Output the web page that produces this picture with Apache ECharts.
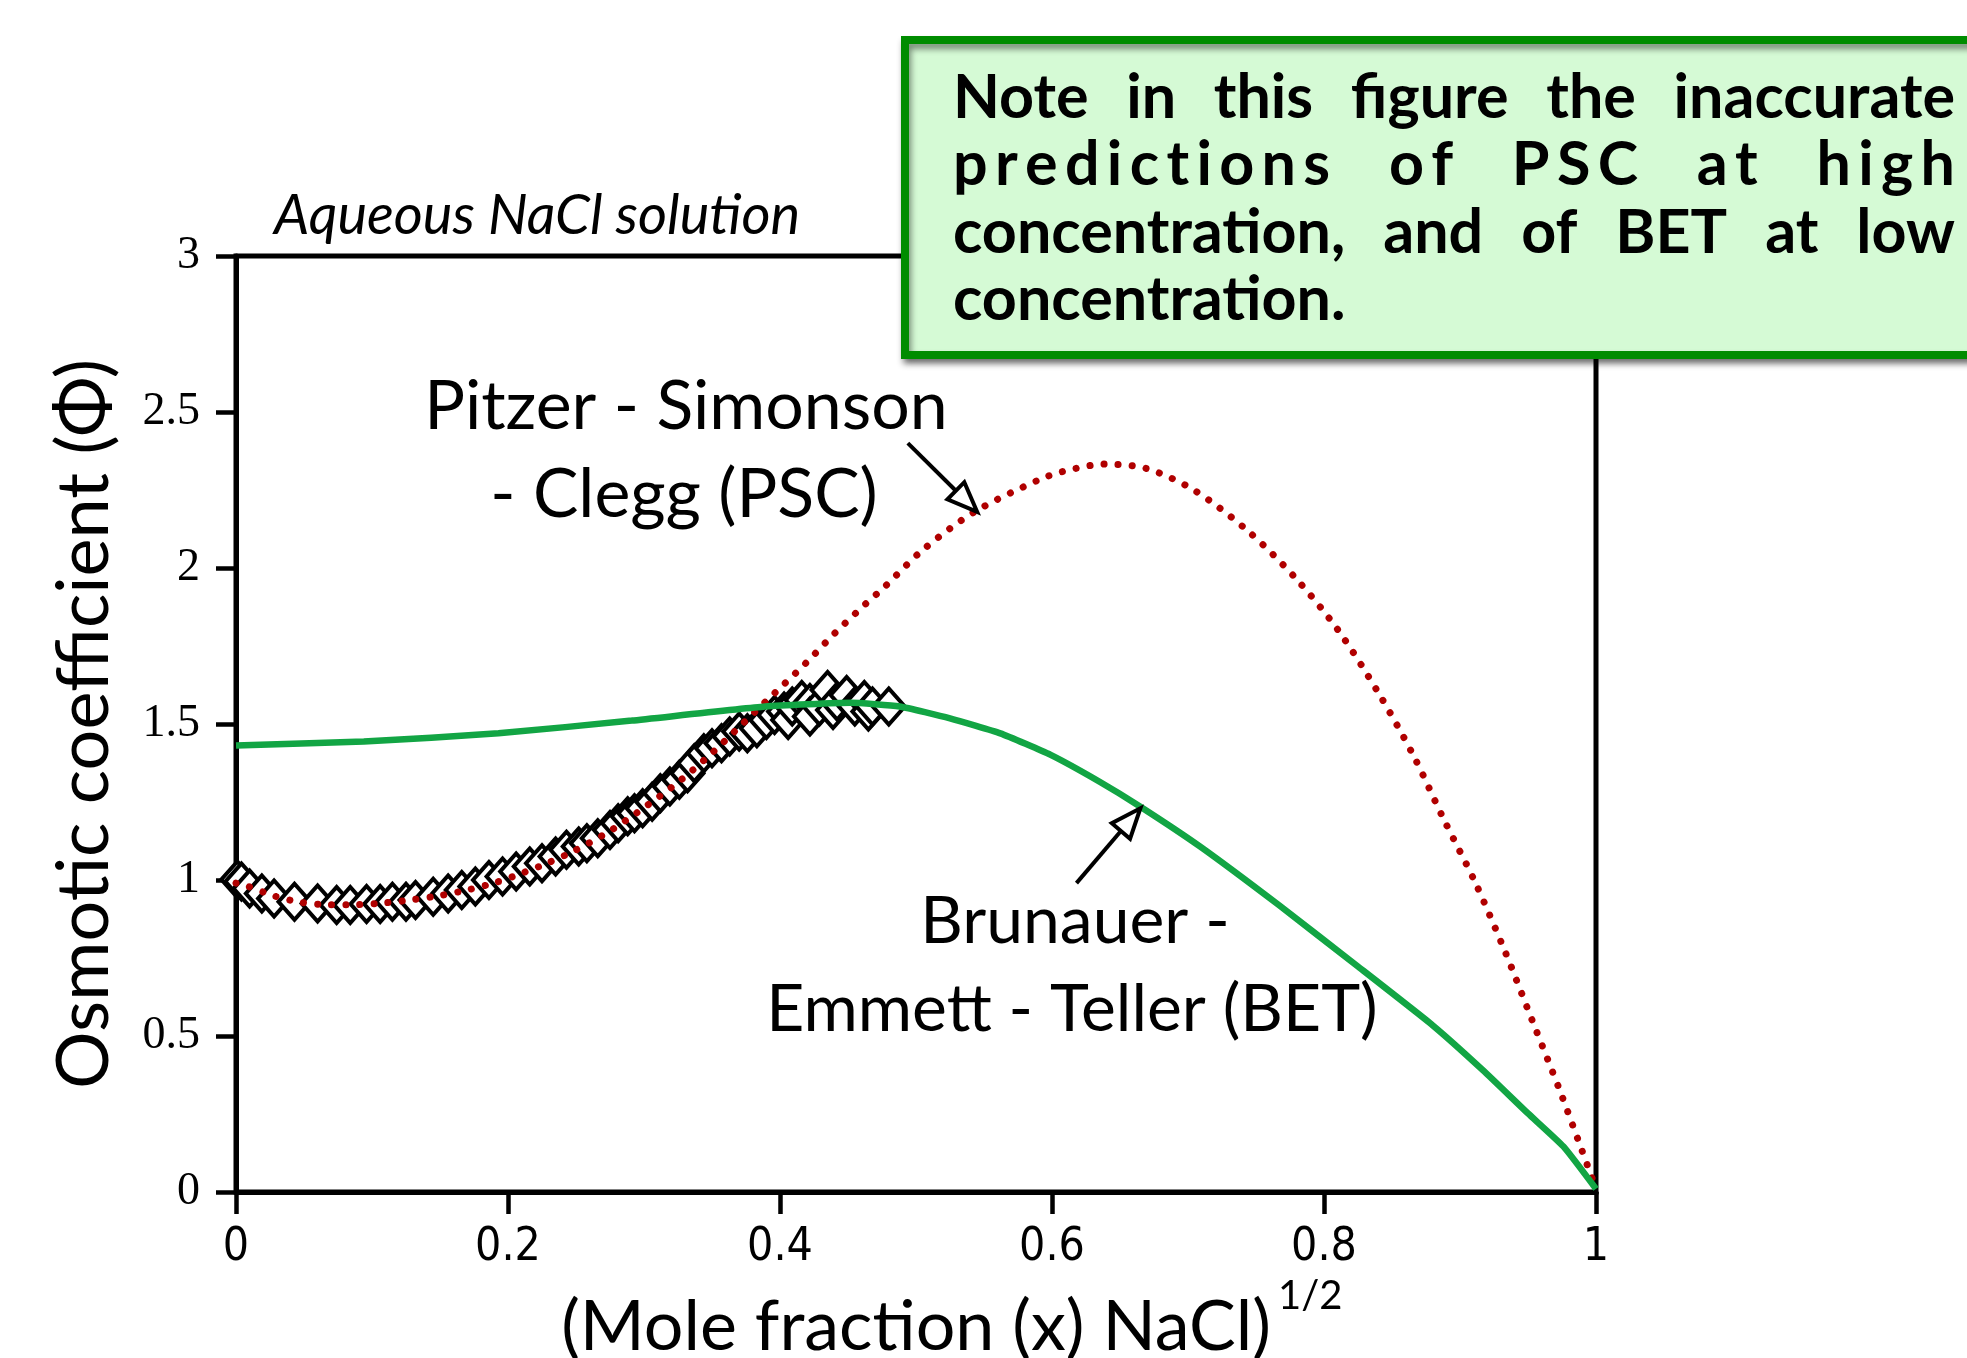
<!DOCTYPE html>
<html>
<head>
<meta charset="utf-8">
<script src="https://cdn.jsdelivr.net/npm/echarts@6/dist/echarts.min.js"></script>
<style>
html,body{margin:0;padding:0;background:#fff}
#main{width:1967px;height:1358px}
</style>
</head>
<body>
<div id="main"></div>
<script>
// experimental points (open diamonds)
var expX = [0.001, 0.004, 0.010, 0.019, 0.028, 0.043, 0.060, 0.074, 0.084, 0.096, 0.106, 0.115, 0.125, 0.132, 0.145, 0.156,
            0.166, 0.176, 0.186, 0.196, 0.206, 0.216, 0.225, 0.235, 0.243, 0.252, 0.258, 0.266, 0.275, 0.281, 0.288, 0.293,
            0.299, 0.306, 0.312, 0.319, 0.326, 0.332, 0.337, 0.344, 0.350, 0.357, 0.363, 0.370, 0.376, 0.383, 0.390, 0.396,
            0.403, 0.406, 0.409, 0.416, 0.422, 0.422, 0.429, 0.435, 0.439, 0.442, 0.449, 0.455, 0.462, 0.465, 0.468, 0.480];
var expY = [1.002, 0.995, 0.973, 0.957, 0.941, 0.930, 0.925, 0.920, 0.920, 0.923, 0.923, 0.930, 0.930, 0.936, 0.946, 0.957,
            0.968, 0.979, 1.000, 1.011, 1.027, 1.043, 1.054, 1.075, 1.097, 1.107, 1.118, 1.134, 1.160, 1.182, 1.204, 1.214,
            1.230, 1.251, 1.278, 1.300, 1.321, 1.342, 1.374, 1.406, 1.422, 1.438, 1.460, 1.476, 1.470, 1.486, 1.513, 1.529,
            1.540, 1.513, 1.556, 1.577, 1.567, 1.524, 1.556, 1.609, 1.545, 1.572, 1.593, 1.556, 1.577, 1.540, 1.556, 1.556];

// Pitzer - Simonson - Clegg (dotted red)
var pscX = [0, 0.008, 0.028, 0.048, 0.068, 0.089, 0.110, 0.130, 0.151, 0.171, 0.191, 0.211, 0.230, 0.249, 0.276, 0.301,
            0.327, 0.350, 0.373, 0.396, 0.419, 0.440, 0.463, 0.477, 0.505, 0.543, 0.590, 0.607, 0.639, 0.670, 0.705, 0.745,
            0.779, 0.810, 0.840, 0.866, 0.888, 0.911, 0.933, 0.953, 0.973, 0.987, 1.0];
var pscY = [0.99, 0.981, 0.949, 0.928, 0.921, 0.921, 0.927, 0.937, 0.951, 0.969, 0.992, 1.023, 1.056, 1.094, 1.160, 1.235,
            1.320, 1.407, 1.503, 1.599, 1.695, 1.790, 1.885, 1.940, 2.058, 2.180, 2.282, 2.308, 2.333, 2.318, 2.248, 2.115,
            1.968, 1.803, 1.600, 1.397, 1.195, 0.994, 0.772, 0.551, 0.330, 0.165, 0.01];

// Brunauer - Emmett - Teller (solid green)
var betX = [0, 0.094, 0.193, 0.291, 0.389, 0.452, 0.488, 0.525, 0.562, 0.599, 0.635, 0.665, 0.709, 0.767, 0.824, 0.880,
            0.917, 0.950, 0.976, 1.0];
var betY = [1.431, 1.444, 1.470, 1.511, 1.556, 1.568, 1.556, 1.518, 1.470, 1.401, 1.315, 1.235, 1.107, 0.919, 0.726, 0.534,
            0.390, 0.252, 0.146, 0.01];

var noteLines = ['Note in this figure the inaccurate', 'predictions of PSC at high',
                 'concentration, and of BET at low', 'concentration.'];
var noteMode = ['words', 'chars', 'words', 'left'];

function zip(xs, ys) {
    return xs.map(function (x, i) { return [x, ys[i]]; });
}

var chart = echarts.init(document.getElementById('main'));

var option = {
    animation: false,
    backgroundColor: '#fff',
    title: {
        text: 'Aqueous NaCl solution',
        left: 274, top: 188, padding: 0,
        textStyle: {fontFamily: 'Lato', fontStyle: 'italic', fontWeight: 'normal', fontSize: 56, color: '#000'}
    },
    grid: {left: 236, right: 371, top: 256, bottom: 166, outerBoundsMode: 'none', show: true, borderColor: '#000', borderWidth: 5},
    xAxis: {
        type: 'value', min: 0, max: 1, interval: 0.2,
        name: '(Mole fraction (x) NaCl)', nameLocation: 'middle', nameGap: 100,
        nameTextStyle: {fontFamily: 'Lato', fontSize: 70, color: '#000'},
        axisLine: {lineStyle: {color: '#000', width: 5}},
        axisTick: {length: 22, lineStyle: {color: '#000', width: 4.5}},
        axisLabel: {margin: 33, fontFamily: "'Liberation Sans Narrow', 'DejaVu Sans Condensed', sans-serif", fontSize: 46, color: '#000'},
        splitLine: {show: false}
    },
    yAxis: {
        type: 'value', min: 0, max: 3, interval: 0.5,
        name: 'Osmotic coefficient (Φ)', nameLocation: 'middle', nameGap: 115,
        nameTextStyle: {fontFamily: 'Lato', fontSize: 72, color: '#000'},
        axisLine: {lineStyle: {color: '#000', width: 5}},
        axisTick: {length: 20, lineStyle: {color: '#000', width: 4.5}},
        axisLabel: {margin: 36, fontFamily: "'Liberation Serif', serif", fontSize: 46, color: '#000'},
        splitLine: {show: false}
    },
    series: [
        {
            type: 'scatter', data: zip(expX, expY), symbol: 'diamond', symbolSize: [32, 36], z: 2,
            itemStyle: {color: '#fff', borderColor: '#000', borderWidth: 4, opacity: 1},
            emphasis: {disabled: true}
        },
        {
            type: 'line', data: zip(pscX, pscY), symbol: 'none', smooth: 0.3, z: 3,
            lineStyle: {color: '#B00000', width: 7, type: [0.1, 14], cap: 'round'}
        },
        {
            type: 'line', data: zip(betX, betY), symbol: 'none', smooth: 0.15, z: 4,
            lineStyle: {color: '#12A544', width: 6.5}
        }
    ]
};
chart.setOption(option);

// arrows pointing at the curves
function arrow(tail, tip) {
    var p0 = chart.convertToPixel({gridIndex: 0}, tail);
    var p1 = chart.convertToPixel({gridIndex: 0}, tip);
    var dx = p1[0] - p0[0], dy = p1[1] - p0[1];
    var len = Math.sqrt(dx * dx + dy * dy);
    var ux = dx / len, uy = dy / len;
    var hl = 30, hw = 12;
    var bx = p1[0] - ux * hl, by = p1[1] - uy * hl;
    return [
        {type: 'line', z: 10, shape: {x1: p0[0], y1: p0[1], x2: bx, y2: by}, style: {stroke: '#000', lineWidth: 4}},
        {type: 'polygon', z: 10, shape: {points: [[p1[0], p1[1]], [bx - uy * hw, by + ux * hw], [bx + uy * hw, by - ux * hw]]},
         style: {fill: '#fff', stroke: '#000', lineWidth: 4}}
    ];
}

// note box text, justified by hand
var ctx = document.createElement('canvas').getContext('2d');
var noteFont = 'bold 61px Lato';
ctx.font = noteFont;
var noteLeft = 953, noteRight = 1955, noteBase = [116, 183.5, 251, 318.5];

function noteText(str, base, mode) {
    var out = [];
    var y = base - 18;
    function put(t, x) {
        out.push({type: 'text', z: 22, x: x, y: y, style: {text: t, font: noteFont, fill: '#000', verticalAlign: 'middle'}});
    }
    if (mode === 'left') {
        put(str, noteLeft);
    } else if (mode === 'words') {
        var words = str.split(' ');
        var ws = words.map(function (w) { return ctx.measureText(w).width; });
        var tot = ws.reduce(function (a, b) { return a + b; }, 0);
        var gap = (noteRight - noteLeft - tot) / (words.length - 1);
        var x = noteLeft;
        words.forEach(function (w, i) { put(w, x); x += ws[i] + gap; });
    } else {
        // letter spacing, with wider gaps round the spaces
        var chars = str.split('');
        var cw = chars.map(function (c) { return ctx.measureText(c).width; });
        var tot2 = cw.reduce(function (a, b) { return a + b; }, 0);
        var wt = [], wsum = 0;
        for (var i = 0; i < chars.length - 1; i++) {
            var w = (chars[i] === ' ' || chars[i + 1] === ' ') ? 3 : 1;
            wt.push(w); wsum += w;
        }
        var unit = (noteRight - noteLeft - tot2) / wsum;
        var x2 = noteLeft;
        chars.forEach(function (c, i) {
            if (c !== ' ') put(c, x2);
            x2 += cw[i] + (i < wt.length ? wt[i] * unit : 0);
        });
    }
    return out;
}

var graphics = [
    {type: 'text', x: 686, y: 407, z: 10, style: {text: 'Pitzer - Simonson', font: '68px Lato', fill: '#000', align: 'center', verticalAlign: 'middle'}},
    {type: 'text', x: 684, y: 495, z: 10, style: {text: '- Clegg (PSC)', font: '68px Lato', fill: '#000', align: 'center', verticalAlign: 'middle'}},
    {type: 'text', x: 1075, y: 922, z: 10, style: {text: 'Brunauer -', font: '66px Lato', fill: '#000', align: 'center', verticalAlign: 'middle'}},
    {type: 'text', x: 1072, y: 1010, z: 10, style: {text: 'Emmett - Teller (BET)', font: '66px Lato', fill: '#000', align: 'center', verticalAlign: 'middle'}},
    {type: 'text', x: 1278, y: 1276, z: 10, style: {text: '1/2', font: '40px Lato', fill: '#000'}},
    {type: 'rect', z: 20, shape: {x: 905, y: 40, width: 1100, height: 315},
     style: {fill: '#D5FAD5', stroke: '#008C00', lineWidth: 8, shadowBlur: 6, shadowOffsetX: 2, shadowOffsetY: 5, shadowColor: 'rgba(0,0,0,0.45)'}}
];
graphics = graphics.concat(arrow([0.494, 2.400], [0.545, 2.180]));
graphics = graphics.concat(arrow([0.618, 0.990], [0.665, 1.230]));
noteLines.forEach(function (s, i) { graphics = graphics.concat(noteText(s, noteBase[i], noteMode[i])); });

chart.setOption({graphic: graphics});
</script>
</body>
</html>
